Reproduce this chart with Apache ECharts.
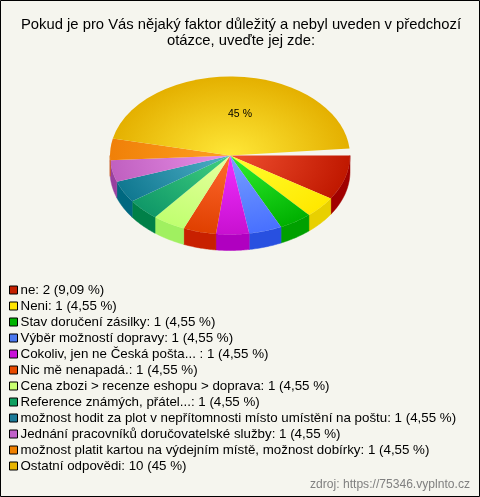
<!DOCTYPE html>
<html><head><meta charset="utf-8">
<style>html,body{margin:0;padding:0;background:#f5f5ee}#c{width:480px;height:497px}</style>
<script src="https://cdn.jsdelivr.net/npm/echarts@6/dist/echarts.min.js"></script>
</head><body><div id="c"></div>
<script>
const titleText = 'Pokud je pro Vás nějaký faktor důležitý a nebyl uveden v předchozí\notázce, uveďte jej zde:';
const sourceText = 'zdroj: https://75346.vyplnto.cz';
const categories = ['ne','Neni','Stav doručení zásilky','Výběr možností dopravy','Cokoliv, jen ne Česká pošta... ','Nic mě nenapadá.','Cena zbozi > recenze eshopu > doprava','Reference známých, přátel...','možnost hodit za plot v nepřítomnosti místo umístění na poštu','Jednání pracovníků doručovatelské služby','možnost platit kartou na výdejním místě, možnost dobírky','Ostatní odpovědi'];
const values = [2,1,1,1,1,1,1,1,1,1,1,10];
const percents = ['9,09','4,55','4,55','4,55','4,55','4,55','4,55','4,55','4,55','4,55','4,55','45'];
const markerColors = ['#c42000','#ffe400','#00b400','#4a78f0','#c810d8','#e84a00','#c8ff70','#0fa060','#1a7a98','#c060c8','#f08000','#e8b400'];
const innerColors  = ['#f05030','#ffff30','#30f030','#78a0ff','#f030ff','#ff6a30','#e8ffa0','#40d080','#50b0c8','#e890e8','#ffa020','#ffe838'];
const outerColors  = ['#c01800','#ffe800','#00b000','#4870ff','#c810d0','#e04000','#c0ff70','#109868','#107890','#c060c0','#f08008','#e4b000'];
const wallColors   = ['#a00000','#e8d000','#00a000','#2850e0','#b000c0','#c82000','#a0f060','#008048','#006880','#9840a0','#d06000','#c09000'];

const CX = 230, CY = 155.5, RX = 120, RY = 79, DEPTH = 16;
const DEG = Math.PI/180;
const ANGLE_OFFSET = 1*DEG, ANGLE_SCALE = 0.975, LAST_END = 355*DEG;
const total = values.reduce((a,b)=>a+b,0);
const starts = []; let acc = 0;
values.forEach((v,i) => { starts.push(i === 0 ? 0 : ANGLE_OFFSET + ANGLE_SCALE*acc/total*Math.PI*2); acc += v; });

function wall(a0, a1) {
  const from = Math.max(a0, 0), to = Math.min(a1, Math.PI);
  if (to <= from) return null;
  const top = [], bot = [];
  const n = 24;
  for (let i = 0; i <= n; i++) {
    const a = from + (to-from)*i/n;
    const x = CX + RX*Math.cos(a), y = CY + RY*Math.sin(a);
    top.push([x,y]); bot.unshift([x,y+DEPTH]);
  }
  return top.concat(bot);
}
function render(idx) {
  return function () {
    const a0 = starts[idx];
    const a1 = idx === values.length-1 ? LAST_END : starts[idx+1];
    const children = [];
    const w = wall(a0, a1);
    if (w) children.push({type:'polygon', shape:{points:w}, style:{fill:wallColors[idx], stroke:wallColors[idx], lineWidth:0.5}});
    children.push({
      type:'sector', x:CX, y:CY, scaleY:RY/RX,
      shape:{cx:0,cy:0,r0:0,r:RX,startAngle:a0,endAngle:a1,clockwise:true},
      style:{fill:new echarts.graphic.RadialGradient(0,0,RX,[{offset:0,color:innerColors[idx]},{offset:1,color:outerColors[idx]}],true)}
    });
    if (idx === values.length-1) children.push({type:'text', x:240, y:114, style:{text:'45 %', fill:'#000', font:'10.5px "Liberation Sans"', align:'center', verticalAlign:'middle'}});
    return {type:'group', children};
  };
}
const legendNames = categories.map((c,i)=>c+': '+values[i]+' ('+percents[i]+' %)');
const option = {
  animation:false,
  backgroundColor:'#f5f5ee',
  title:{text:titleText,left:236,top:12,textAlign:'center',textStyle:{fontFamily:'Liberation Sans',fontSize:14.8,fontWeight:'normal',color:'#000',lineHeight:16,align:'center'}},
  legend:{orient:'vertical',left:9,top:283,itemWidth:8,itemHeight:8,itemGap:2,padding:0,selectedMode:false,icon:'rect',
    textStyle:{fontFamily:'Liberation Sans',fontSize:13.33,color:'#000',padding:[0,0,0,-2],lineHeight:14},
    itemStyle:{borderColor:'#000',borderWidth:1},
    data:legendNames.map((n,i)=>({name:n,itemStyle:{color:markerColors[i],borderColor:'#000',borderWidth:1}}))},
  graphic:[
    {type:'rect',z:100,silent:true,shape:{x:0.5,y:0.5,width:479,height:496},style:{fill:'none',stroke:'#000',lineWidth:1}},
    {type:'text',z:100,right:10,top:479,style:{text:sourceText,fill:'#808080',font:'12.1px "Liberation Sans"'}}
  ],
  series:legendNames.map((n,i)=>({type:'custom',name:n,coordinateSystem:'none',data:[values[i]],renderItem:render(i),itemStyle:{color:markerColors[i]},silent:true}))
};
echarts.init(document.getElementById('c'),null,{renderer:'canvas'}).setOption(option);
</script></body></html>
